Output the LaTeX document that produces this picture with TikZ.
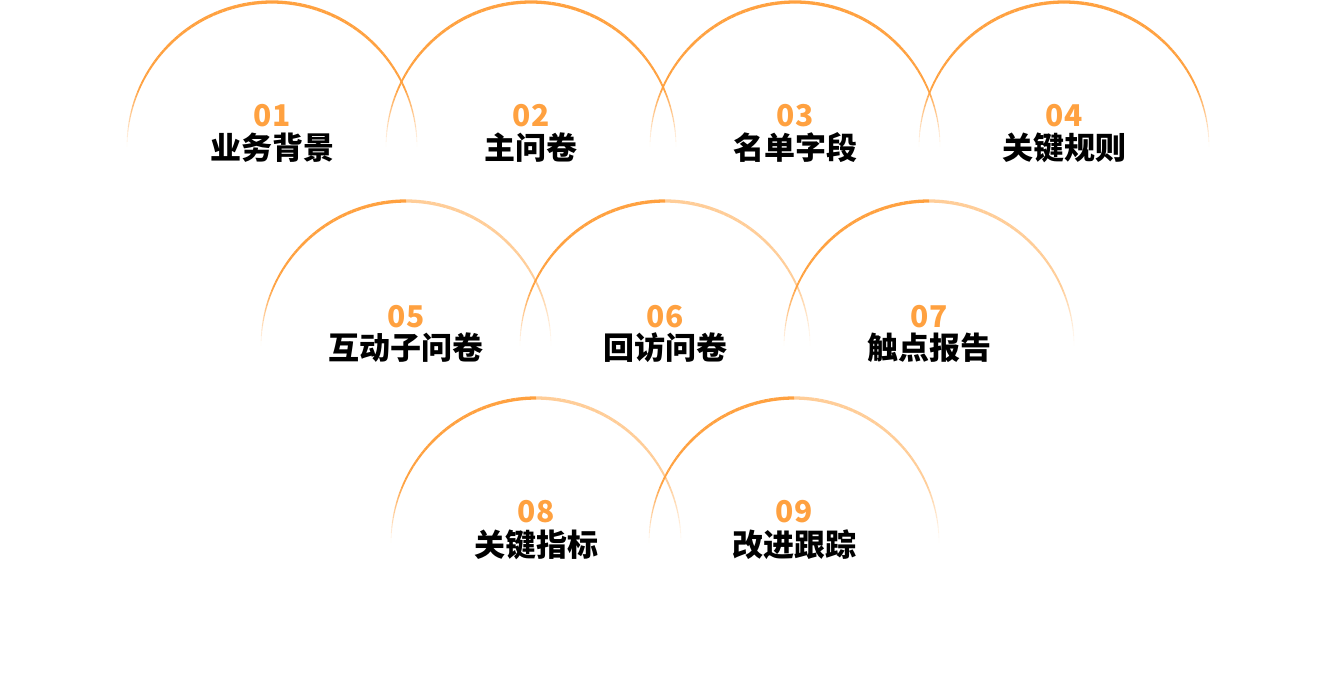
\documentclass[tikz,border=0pt]{standalone}
\usepackage{fontspec}
\newfontfamily\cjk{Noto Sans CJK SC}
\definecolor{org}{HTML}{FFA140}
\definecolor{lorg}{HTML}{FFCD98}
\tikzset{
  numtext/.style={font=\cjk\bfseries\fontsize{30}{30}\selectfont, text=org, inner sep=0pt},
  labtext/.style={font=\cjk\bfseries\fontsize{31}{31}\selectfont, text=black, inner sep=0pt},
}
% #1 cx, #2 cy, #3 left colour, #4 right colour
\newcommand\fadearc[4]{%
  \foreach \t in {0,2,...,178}{%
    \pgfmathsetmacro\m{\t+1}%
    \pgfmathsetmacro\op{min(1,min(\m/24,(180-\m)/24))}%
    \pgfmathsetmacro\lw{0.7+2.6*sin(\m)}%
    \pgfmathsetmacro\cl{ifthenelse(\m>90,1,0)}%
    \ifdim\cl pt>0.5pt\def\col{#3}\else\def\col{#4}\fi
    \draw[line width=\lw pt, draw=\col, draw opacity=\op]
      ($(#1,#2)+(-\t:145)$) arc[start angle=-\t, end angle=-\t-2, radius=145];
  }%
}
\usetikzlibrary{calc}
\begin{document}
\begin{tikzpicture}[x=1pt,y=-1pt]
\useasboundingbox (0,0) rectangle (1338,690);
% row 1
\fadearc{272}{147}{org}{org}
\fadearc{531}{147}{org}{org}
\fadearc{795}{147}{org}{org}
\fadearc{1064}{147}{org}{org}
% row 2
\fadearc{406}{346}{org}{lorg}
\fadearc{665}{346}{org}{lorg}
\fadearc{929}{346}{org}{lorg}
% row 3
\fadearc{536}{543}{org}{lorg}
\fadearc{794}{543}{org}{lorg}
% texts
\node[numtext] (n1) at (272,115.5) {01};
\node[labtext] (t1) at (272,148) {业务背景};
\node[numtext] (n2) at (531,115.5) {02};
\node[labtext] (t2) at (531,148) {主问卷};
\node[numtext] (n3) at (795,115.5) {03};
\node[labtext] (t3) at (795,148) {名单字段};
\node[numtext] (n4) at (1064,115.5) {04};
\node[labtext] (t4) at (1064,148) {关键规则};
\node[numtext] (n5) at (406,316.5) {05};
\node[labtext] (t5) at (406,348) {互动子问卷};
\node[numtext] (n6) at (665,316.5) {06};
\node[labtext] (t6) at (665,348) {回访问卷};
\node[numtext] (n7) at (929,316.5) {07};
\node[labtext] (t7) at (929,348) {触点报告};
\node[numtext] (n8) at (536,511.5) {08};
\node[labtext] (t8) at (536,545) {关键指标};
\node[numtext] (n9) at (794,511.5) {09};
\node[labtext] (t9) at (794,545) {改进跟踪};
\end{tikzpicture}
\end{document}
